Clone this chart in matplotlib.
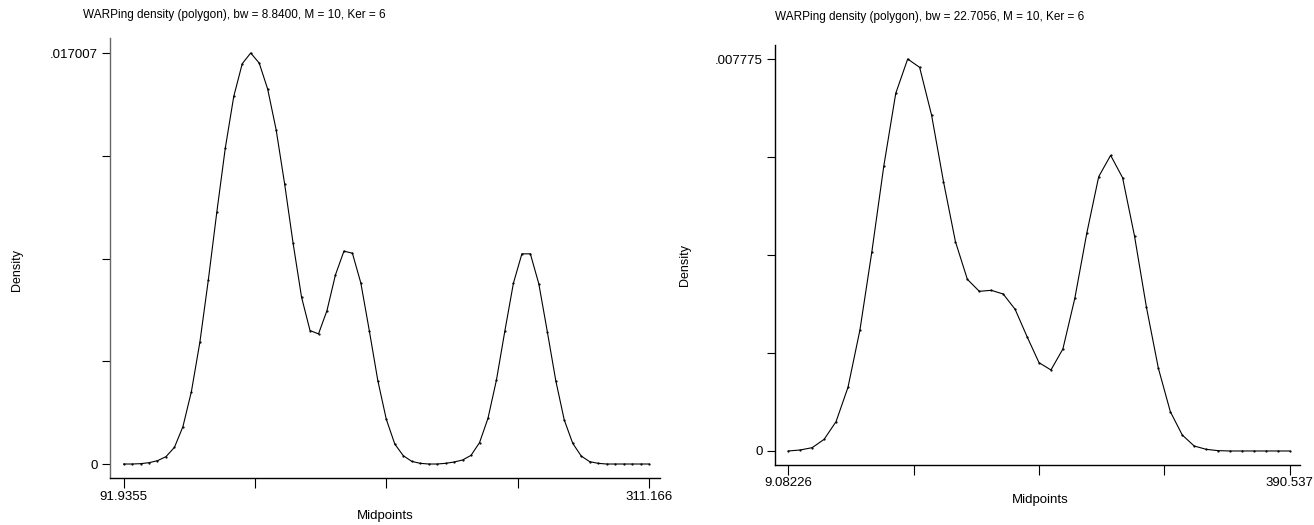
import numpy as np
import matplotlib
matplotlib.use("Agg")
import matplotlib.pyplot as plt

plt.rcParams['font.family'] = ['Liberation Sans', 'DejaVu Sans']

# left panel: bw = 8.84, midpoints 91.9355 .. 311.166
left_title = "WARPing density (polygon), bw = 8.8400, M = 10, Ker = 6"
left_xrange = (91.9355, 311.166)
left_ytop = 0.017007
left_density = [
    0, 0, 0.000014, 0.000055, 0.000138, 0.000304, 0.00069, 0.001546, 0.002996, 0.005039,
    0.00762, 0.010422, 0.013073, 0.015212, 0.016565, 0.017007, 0.016593, 0.015516, 0.013832, 0.011596,
    0.009139, 0.006902, 0.005522, 0.005384, 0.00635, 0.007827, 0.008807, 0.008724, 0.007482, 0.005508,
    0.003451, 0.00185, 0.000828, 0.000345, 0.00011, 0.000028, 0, 0, 0.000028, 0.000083,
    0.000166, 0.000359, 0.000883, 0.001891, 0.003479, 0.005522, 0.007482, 0.008697, 0.008697, 0.007454,
    0.00548, 0.003451, 0.001822, 0.000856, 0.000331, 0.000097, 0.000028, 0, 0, 0,
    0, 0, 0,
]
left_xlabels = ["91.9355", "", "", "", "311.166"]
left_ylabels = ["0", "", "", "", ".017007"]

# right panel: bw = 22.7056, midpoints 9.08226 .. 390.537
right_title = "WARPing density (polygon), bw = 22.7056, M = 10, Ker = 6"
right_xrange = (9.08226, 390.537)
right_ytop = 0.007775
right_density = [
    0, 0.00002, 0.000066, 0.000231, 0.000582, 0.001263, 0.0024, 0.003954, 0.005653, 0.007094,
    0.007775, 0.00761, 0.006664, 0.005342, 0.004152, 0.003405, 0.003167, 0.003187, 0.003114, 0.00281,
    0.002268, 0.001752, 0.001607, 0.002023, 0.003028, 0.004317, 0.005441, 0.005864, 0.005421, 0.004264,
    0.00285, 0.00164, 0.00078, 0.000317, 0.000099, 0.000033, 0.000007, 0, 0, 0,
    0, 0, 0,
]
right_xlabels = ["9.08226", "", "", "", "390.537"]
right_ylabels = ["0", "", "", "", ".007775"]

W, H = 1314, 525
fig = plt.figure(figsize=(W / 100, H / 100), dpi=100)


def px_axes(left, top, right, bottom):
    return fig.add_axes([left / W, 1 - bottom / H, (right - left) / W, (bottom - top) / H])


def draw(ax, xr, ytop, dens, xlabels, ylabels, xlim, ylim):
    x = np.linspace(xr[0], xr[1], len(dens))
    ax.plot(x, dens, color="black", lw=0.8, marker="o", ms=0.6)
    ax.set_xlim(*xlim)
    ax.set_ylim(*ylim)
    ax.set_xticks(np.linspace(xr[0], xr[1], 5))
    ax.set_xticklabels(xlabels)
    ax.set_yticks(np.linspace(0, ytop, 5))
    ax.set_yticklabels(ylabels)
    for s in ["top", "right"]:
        ax.spines[s].set_visible(False)
    for s in ["left", "bottom"]:
        ax.spines[s].set_linewidth(1.0)
    ax.tick_params(axis="x", length=7, width=0.8, pad=2, labelsize=9.5)
    ax.tick_params(axis="y", length=6, width=0.8, pad=3, labelsize=9.5)


ax1 = px_axes(110, 38, 660, 478)
draw(ax1, left_xrange, left_ytop, left_density, left_xlabels, left_ylabels,
     (86.26, 315.76), (-0.000579, 0.017628))
ax1.spines["left"].set_color("#666666")

ax2 = px_axes(775, 45, 1300, 465)
draw(ax2, right_xrange, right_ytop, right_density, right_xlabels, right_ylabels,
     (-1.036, 398.37), (-0.000278, 0.008053))

fig.text(83 / W, 1 - 15 / H, left_title, ha="left", va="center", fontsize=8.5)
fig.text(775 / W, 1 - 17 / H, right_title, ha="left", va="center", fontsize=8.5)
fig.text(17 / W, 1 - 270 / H, "Density", rotation=90, ha="center", va="center", fontsize=9)
fig.text(685 / W, 1 - 265 / H, "Density", rotation=90, ha="center", va="center", fontsize=9)
fig.text(385 / W, 1 - 516 / H, "Midpoints", ha="center", va="center", fontsize=9.5)
fig.text(1040 / W, 1 - 500 / H, "Midpoints", ha="center", va="center", fontsize=9.5)

fig.savefig("out.png", dpi=100)
